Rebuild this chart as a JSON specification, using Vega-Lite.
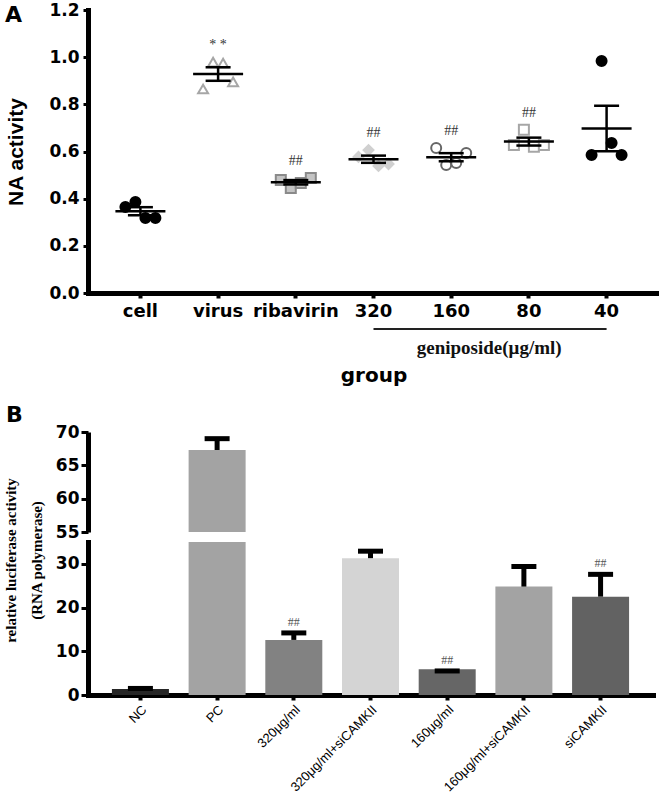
{
  "$schema": "https://vega.github.io/schema/vega-lite/v6.json",
  "padding": {"left": 2, "top": 1, "right": 0, "bottom": 0},
  "config": {"view": {"stroke": null}, "axis": {"grid": false}},
  "bounds": "flush",
  "spacing": 139,
  "vconcat": [
    {
      "width": 571,
      "height": 283,
      "title": {"text": "A", "anchor": "start", "frame": "group", "dx": -83, "dy": 43, "offset": 0, "baseline": "alphabetic", "font": "DejaVu Sans", "fontSize": 22, "fontWeight": "bold", "color": "black"},
      "data": {"values": [
        {"group": "cell", "rep": "1", "value": 0.365},
        {"group": "cell", "rep": "2", "value": 0.386},
        {"group": "cell", "rep": "3", "value": 0.318},
        {"group": "cell", "rep": "4", "value": 0.318},
        {"group": "virus", "rep": "1", "value": 0.865},
        {"group": "virus", "rep": "2", "value": 0.979},
        {"group": "virus", "rep": "3", "value": 0.975},
        {"group": "virus", "rep": "4", "value": 0.895},
        {"group": "ribavirin", "rep": "1", "value": 0.479},
        {"group": "ribavirin", "rep": "2", "value": 0.445},
        {"group": "ribavirin", "rep": "3", "value": 0.466},
        {"group": "ribavirin", "rep": "4", "value": 0.488},
        {"group": "320", "rep": "1", "value": 0.577},
        {"group": "320", "rep": "2", "value": 0.606},
        {"group": "320", "rep": "3", "value": 0.539},
        {"group": "320", "rep": "4", "value": 0.547},
        {"group": "160", "rep": "1", "value": 0.615},
        {"group": "160", "rep": "2", "value": 0.543},
        {"group": "160", "rep": "3", "value": 0.551},
        {"group": "160", "rep": "4", "value": 0.594},
        {"group": "80", "rep": "1", "value": 0.628},
        {"group": "80", "rep": "2", "value": 0.692},
        {"group": "80", "rep": "3", "value": 0.62},
        {"group": "80", "rep": "4", "value": 0.628},
        {"group": "40", "rep": "1", "value": 0.585},
        {"group": "40", "rep": "2", "value": 0.984},
        {"group": "40", "rep": "3", "value": 0.636},
        {"group": "40", "rep": "4", "value": 0.585}
      ]},
      "encoding": {
        "x": {
          "field": "group", "type": "nominal", "title": "group",
          "scale": {"domain": ["cell", "virus", "ribavirin", "320", "160", "80", "40"], "paddingInner": 0.485, "paddingOuter": 0.417},
          "axis": {"labelFont": "DejaVu Sans", "labelFontWeight": "bold", "labelFontSize": 18, "labelColor": "black", "labelAngle": 0, "labelPadding": 4, "tickSize": 5, "tickWidth": 4, "tickColor": "black", "domainWidth": 5, "domainColor": "black", "domainCap": "square", "title": "group", "titleFont": "DejaVu Sans", "titleFontSize": 20, "titleFontWeight": "bold", "titleColor": "black", "titleBaseline": "alphabetic", "titleY": 88}
        },
        "y": {
          "field": "value", "type": "quantitative", "title": "NA activity",
          "scale": {"domain": [0, 1.2], "nice": false},
          "axis": {"values": [0, 0.2, 0.4, 0.6, 0.8, 1.0, 1.2], "format": ".1f", "labelFont": "DejaVu Sans", "labelFontWeight": "bold", "labelFontSize": 17, "labelColor": "black", "labelPadding": 4, "tickSize": 5, "tickWidth": 3, "tickColor": "black", "domainWidth": 5, "domainColor": "black", "domainCap": "square", "title": "NA activity", "titleFont": "Liberation Sans", "titleFontSize": 21, "titleFontWeight": "bold", "titleColor": "black", "titleX": -62}
        }
      },
      "layer": [
        {
          "mark": {"type": "point", "filled": true, "size": 100, "strokeWidth": 2, "opacity": 1},
          "encoding": {
            "xOffset": {"field": "rep", "type": "nominal"},
            "shape": {"field": "group", "type": "nominal", "legend": null, "scale": {"domain": ["cell", "virus", "ribavirin", "320", "160", "80", "40"], "range": ["circle", "triangle-up", "square", "diamond", "circle", "square", "circle"]}},
            "fill": {"field": "group", "type": "nominal", "legend": null, "scale": {"domain": ["cell", "virus", "ribavirin", "320", "160", "80", "40"], "range": ["#000000", "#ffffff", "#c4c4c4", "#d0d0d0", "#ffffff", "#ffffff", "#000000"]}},
            "stroke": {"field": "group", "type": "nominal", "legend": null, "scale": {"domain": ["cell", "virus", "ribavirin", "320", "160", "80", "40"], "range": ["#000000", "#a6a6a6", "#8a8a8a", "#d0d0d0", "#666666", "#a6a6a6", "#000000"]}}
          }
        },
        {
          "mark": {"type": "errorbar", "extent": "stderr", "ticks": {"size": 25, "thickness": 2.5, "color": "black", "opacity": 1}, "rule": {"strokeWidth": 2.5, "color": "black"}}
        },
        {
          "mark": {"type": "tick", "size": 50, "thickness": 2.5, "color": "black", "opacity": 1},
          "encoding": {"y": {"aggregate": "mean", "field": "value", "type": "quantitative", "title": "NA activity"}}
        },
        {
          "transform": [
            {"aggregate": [{"op": "max", "field": "value", "as": "top"}], "groupby": ["group"]},
            {"lookup": "group", "from": {"data": {"values": [
              {"group": "virus", "sig": "* *"},
              {"group": "ribavirin", "sig": "##"},
              {"group": "320", "sig": "##"},
              {"group": "160", "sig": "##"},
              {"group": "80", "sig": "##"}
            ]}, "key": "group", "fields": ["sig"]}},
            {"filter": "datum.sig != null"}
          ],
          "mark": {"type": "text", "font": "Liberation Serif", "fontSize": 14, "color": "#333333", "dy": -17, "baseline": "middle"},
          "encoding": {
            "y": {"field": "top", "type": "quantitative", "title": "NA activity"},
            "text": {"field": "sig", "type": "nominal"}
          }
        },
        {
          "transform": [{"filter": "(datum.group == '320' || datum.group == '40') && datum.rep == '1'"}],
          "mark": {"type": "line", "strokeWidth": 2, "color": "#222222", "clip": false},
          "encoding": {
            "y": {"datum": -0.153, "type": "quantitative", "title": "NA activity"}
          }
        },
        {
          "transform": [{"filter": "datum.group == '160' && datum.rep == '1'"}],
          "mark": {"type": "text", "font": "Liberation Serif", "fontSize": 19, "fontWeight": "bold", "color": "#111111", "dx": 38, "baseline": "middle", "clip": false},
          "encoding": {
            "y": {"datum": -0.233, "type": "quantitative", "title": "NA activity"},
            "text": {"value": "geniposide(μg/ml)"}
          }
        }
      ]
    },
    {
      "bounds": "flush",
      "spacing": 10,
      "vconcat": [
        {
          "width": 565,
          "height": 100,
          "title": {"text": "B", "anchor": "start", "frame": "group", "dx": -82, "dy": 21, "offset": 0, "baseline": "alphabetic", "font": "DejaVu Sans", "fontSize": 22, "fontWeight": "bold", "color": "black"},
          "data": {"name": "bars", "values": [
            {"group": "NC", "mean": 1.4, "upper": 1.5, "sig": ""},
            {"group": "PC", "mean": 67.3, "upper": 69.0, "sig": "**"},
            {"group": "320μg/ml", "mean": 12.6, "upper": 14.2, "sig": "##"},
            {"group": "320μg/ml+siCAMKII", "mean": 31.3, "upper": 32.9, "sig": ""},
            {"group": "160μg/ml", "mean": 5.9, "upper": 5.5, "sig": "##"},
            {"group": "160μg/ml+siCAMKII", "mean": 24.8, "upper": 29.4, "sig": ""},
            {"group": "siCAMKII", "mean": 22.5, "upper": 27.6, "sig": "##"}
          ]},
          "encoding": {
            "x": {"field": "group", "type": "nominal", "scale": {"domain": ["NC", "PC", "320μg/ml", "320μg/ml+siCAMKII", "160μg/ml", "160μg/ml+siCAMKII", "siCAMKII"], "paddingInner": 0.257, "paddingOuter": 0.312}, "axis": null},
            "y": {"field": "mean", "type": "quantitative", "title": null, "scale": {"domain": [55, 70], "nice": false, "zero": false},
              "axis": {"values": [55, 60, 65, 70], "labelFont": "DejaVu Sans", "labelFontWeight": "bold", "labelFontSize": 17, "labelColor": "black", "labelPadding": 2, "tickSize": 7, "tickWidth": 3, "tickColor": "black", "domainWidth": 5, "domainColor": "black", "title": null}}
          },
          "layer": [
            {"mark": {"type": "bar", "clip": true, "opacity": 1, "width": 57},
             "encoding": {"y2": {"datum": 0}, "color": {"field": "group", "type": "nominal", "legend": null, "scale": {"domain": ["NC", "PC", "320μg/ml", "320μg/ml+siCAMKII", "160μg/ml", "160μg/ml+siCAMKII", "siCAMKII"], "range": ["#262626", "#a3a3a3", "#828282", "#d4d4d4", "#666666", "#a3a3a3", "#626262"]}}}},
            {"mark": {"type": "rule", "clip": true, "strokeWidth": 5, "color": "black"},
             "encoding": {"y2": {"field": "upper"}}},
            {"mark": {"type": "tick", "clip": true, "size": 25, "thickness": 5, "color": "black", "opacity": 1},
             "encoding": {"y": {"field": "upper", "type": "quantitative", "title": null}}},
            {"mark": {"type": "text", "clip": true, "font": "Liberation Serif", "fontSize": 12, "color": "#666666", "dy": -12, "baseline": "middle"},
             "encoding": {"y": {"field": "upper", "type": "quantitative", "title": null}, "text": {"field": "sig", "type": "nominal"}}}
          ]
        },
        {
          "width": 565,
          "height": 153,
          "data": {"name": "bars"},
          "encoding": {
            "x": {"field": "group", "type": "nominal", "title": null,
              "scale": {"domain": ["NC", "PC", "320μg/ml", "320μg/ml+siCAMKII", "160μg/ml", "160μg/ml+siCAMKII", "siCAMKII"], "paddingInner": 0.257, "paddingOuter": 0.312},
              "axis": {"labelAngle": -45, "labelFont": "Liberation Sans", "labelFontSize": 13, "labelColor": "black", "labelPadding": 3, "tickSize": 5, "tickWidth": 4, "tickColor": "black", "domainWidth": 5, "domainColor": "black", "domainCap": "square", "title": null}},
            "y": {"field": "mean", "type": "quantitative", "title": ["relative luciferase activity", "(RNA polymerase)"],
              "scale": {"domain": [0, 35], "nice": false},
              "axis": {"values": [0, 10, 20, 30], "labelFont": "DejaVu Sans", "labelFontWeight": "bold", "labelFontSize": 17, "labelColor": "black", "labelPadding": 2, "tickSize": 7, "tickWidth": 3, "tickColor": "black", "domainWidth": 5, "domainColor": "black", "domainCap": "square", "title": ["relative luciferase activity", "(RNA polymerase)"], "titleFont": "Liberation Serif", "titleFontSize": 15, "titleFontWeight": "bold", "titleColor": "black", "titleLineHeight": 26, "titleX": -70, "titleY": 18}}
          },
          "layer": [
            {"mark": {"type": "bar", "clip": true, "opacity": 1, "width": 57},
             "encoding": {"color": {"field": "group", "type": "nominal", "legend": null, "scale": {"domain": ["NC", "PC", "320μg/ml", "320μg/ml+siCAMKII", "160μg/ml", "160μg/ml+siCAMKII", "siCAMKII"], "range": ["#262626", "#a3a3a3", "#828282", "#d4d4d4", "#666666", "#a3a3a3", "#626262"]}}}},
            {"mark": {"type": "rule", "clip": true, "strokeWidth": 5, "color": "black"},
             "encoding": {"y2": {"field": "upper"}}},
            {"mark": {"type": "tick", "clip": true, "size": 25, "thickness": 5, "color": "black", "opacity": 1},
             "encoding": {"y": {"field": "upper", "type": "quantitative", "title": ["relative luciferase activity", "(RNA polymerase)"]}}},
            {"mark": {"type": "text", "clip": true, "font": "Liberation Serif", "fontSize": 12, "color": "#555555", "dy": -11, "baseline": "middle"},
             "encoding": {"y": {"field": "upper", "type": "quantitative", "title": ["relative luciferase activity", "(RNA polymerase)"]}, "text": {"field": "sig", "type": "nominal"}}}
          ]
        }
      ]
    }
  ]
}
